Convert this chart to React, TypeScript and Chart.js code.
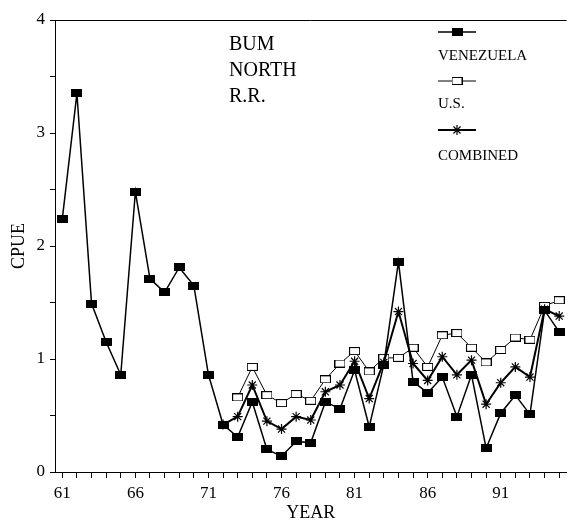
import React, { useEffect, useRef } from "react";
import { Chart, registerables } from "chart.js";

Chart.register(...registerables);

const years = [61, 62, 63, 64, 65, 66, 67, 68, 69, 70, 71, 72, 73, 74, 75, 76, 77, 78, 79, 80, 81, 82, 83, 84, 85, 86, 87, 88, 89, 90, 91, 92, 93, 94, 95];
const venezuela = [2.24, 3.35, 1.49, 1.15, 0.86, 2.48, 1.71, 1.59, 1.81, 1.65, 0.86, 0.42, 0.31, 0.62, 0.2, 0.14, 0.27, 0.26, 0.62, 0.56, 0.9, 0.4, 0.95, 1.86, 0.8, 0.7, 0.84, 0.49, 0.86, 0.21, 0.52, 0.68, 0.51, 1.43, 1.24];
const usYears = [73, 74, 75, 76, 77, 78, 79, 80, 81, 82, 83, 84, 85, 86, 87, 88, 89, 90, 91, 92, 93, 94, 95];
const us = [0.66, 0.93, 0.68, 0.61, 0.69, 0.63, 0.82, 0.96, 1.07, 0.89, 1.01, 1.01, 1.1, 0.93, 1.21, 1.23, 1.1, 0.97, 1.08, 1.19, 1.17, 1.47, 1.52];
const combinedYears = [72, 73, 74, 75, 76, 77, 78, 79, 80, 81, 82, 83, 84, 85, 86, 87, 88, 89, 90, 91, 92, 93, 94, 95];
const combined = [0.42, 0.49, 0.77, 0.45, 0.38, 0.49, 0.46, 0.71, 0.77, 0.98, 0.65, 0.97, 1.42, 0.96, 0.81, 1.02, 0.86, 0.99, 0.6, 0.79, 0.93, 0.84, 1.44, 1.38];
const yTicks = [0, 0.5, 1, 1.5, 2, 2.5, 3, 3.5, 4];
const seriesNames = ["VENEZUELA", "U.S.", "COMBINED"];
const annotation = ["BUM", "NORTH", "R.R."];

const FONT = "'Liberation Serif', 'DejaVu Serif', serif";

function makeRect(filled: boolean): HTMLCanvasElement {
  const c = document.createElement("canvas");
  c.width = 11;
  c.height = 8;
  const ctx = c.getContext("2d")!;
  if (filled) {
    ctx.fillStyle = "#000";
    ctx.fillRect(0, 0, 11, 8);
  } else {
    ctx.fillStyle = "#fff";
    ctx.fillRect(0, 0, 11, 8);
    ctx.strokeStyle = "#000";
    ctx.lineWidth = 1;
    ctx.strokeRect(0.5, 0.5, 10, 7);
  }
  return c;
}

export default function App() {
  const ref = useRef<HTMLCanvasElement | null>(null);

  useEffect(() => {
    document.body.style.margin = "0";
    const filledRect = makeRect(true);
    const openRect = makeRect(false);

    const overlay = {
      id: "overlay",
      afterDraw(chart: any) {
        const ctx = chart.ctx;
        const a = chart.chartArea;
        ctx.save();
        ctx.strokeStyle = "#000";
        ctx.lineWidth = 1;
        ctx.beginPath();
        ctx.moveTo(a.left, a.top + 0.5);
        ctx.lineTo(a.right, a.top + 0.5);
        ctx.stroke();

        ctx.fillStyle = "#000";
        ctx.textBaseline = "middle";
        ctx.textAlign = "left";
        ctx.font = `20px ${FONT}`;
        annotation.forEach((t, i) => ctx.fillText(t, 229, 45 + i * 26));

        const lx0 = 438;
        const lx1 = 476;
        const sampleY = [32, 81, 130];
        const textY = [56, 104, 156];
        const widths = [1.5, 1, 2];
        sampleY.forEach((y, i) => {
          ctx.lineWidth = widths[i];
          ctx.beginPath();
          ctx.moveTo(lx0, y);
          ctx.lineTo(lx1, y);
          ctx.stroke();
          const cx = (lx0 + lx1) / 2;
          if (i === 0) ctx.drawImage(filledRect, cx - 5.5, y - 4);
          else if (i === 1) ctx.drawImage(openRect, cx - 5.5, y - 4);
          else {
            ctx.lineWidth = 1.2;
            const r = 5;
            ctx.beginPath();
            for (let k = 0; k < 4; k++) {
              const ang = (k * Math.PI) / 4;
              ctx.moveTo(cx - r * Math.sin(ang), y - r * Math.cos(ang));
              ctx.lineTo(cx + r * Math.sin(ang), y + r * Math.cos(ang));
            }
            ctx.stroke();
          }
        });
        ctx.font = `15px ${FONT}`;
        seriesNames.forEach((t, i) => ctx.fillText(t, 438, textY[i]));
        ctx.restore();
      },
    };

    const chart = new Chart(ref.current!, {
      type: "line",
      data: {
        datasets: [
          {
            label: seriesNames[0],
            data: years.map((x, i) => ({ x, y: venezuela[i] })),
            borderColor: "#000",
            backgroundColor: "#000",
            borderWidth: 1.5,
            pointStyle: filledRect as any,
            pointRadius: 5,
            order: 0,
          },
          {
            label: seriesNames[1],
            data: usYears.map((x, i) => ({ x, y: us[i] })),
            borderColor: "#000",
            backgroundColor: "#fff",
            borderWidth: 1,
            pointStyle: openRect as any,
            pointRadius: 5,
            order: 2,
          },
          {
            label: seriesNames[2],
            data: combinedYears.map((x, i) => ({ x, y: combined[i] })),
            borderColor: "#000",
            backgroundColor: "#000",
            borderWidth: 2,
            pointStyle: "star",
            pointRadius: 5,
            pointBorderWidth: 1.2,
            order: 1,
          },
        ],
      },
      options: {
        animation: false,
        responsive: false,
        layout: { padding: { top: 20, right: 2, left: 0, bottom: 0 } },
        plugins: { legend: { display: false }, tooltip: { enabled: false } },
        elements: { line: { tension: 0 } },
        scales: {
          x: {
            type: "linear",
            min: 60.5,
            max: 95.5,
            afterBuildTicks: (s: any) => {
              s.ticks = years.map((v) => ({ value: v }));
            },
            afterFit: (s: any) => {
              s.height = 52;
            },
            ticks: {
              autoSkip: false,
              maxRotation: 0,
              color: "#000",
              padding: 5,
              font: { family: FONT, size: 17 },
              callback: (v: any) => ((v - 61) % 5 === 0 ? String(v) : ""),
            },
            grid: { drawOnChartArea: false, drawTicks: true, tickLength: 6, color: "#000" },
            border: { display: true, color: "#000", width: 1 },
            title: {
              display: true,
              text: "YEAR",
              color: "#000",
              font: { family: FONT, size: 18 },
              padding: { top: 0, bottom: 0 },
            },
          },
          y: {
            type: "linear",
            min: 0,
            max: 4,
            afterBuildTicks: (s: any) => {
              s.ticks = yTicks.map((v) => ({ value: v }));
            },
            afterFit: (s: any) => {
              s.width = 55;
            },
            ticks: {
              autoSkip: false,
              color: "#000",
              padding: 5,
              font: { family: FONT, size: 17 },
              callback: (v: any) => (Number.isInteger(v) ? String(v) : ""),
            },
            grid: { drawOnChartArea: false, drawTicks: true, tickLength: 5, color: "#000" },
            border: { display: true, color: "#000", width: 1 },
            title: {
              display: true,
              text: "CPUE",
              color: "#000",
              font: { family: FONT, size: 18 },
              padding: { top: 8, bottom: 0 },
            },
          },
        },
      },
      plugins: [overlay],
    } as any);
    return () => chart.destroy();
  }, []);

  return (
    <div style={{ width: 573, height: 524, background: "#fff" }}>
      <canvas ref={ref} width={573} height={524} />
    </div>
  );
}
